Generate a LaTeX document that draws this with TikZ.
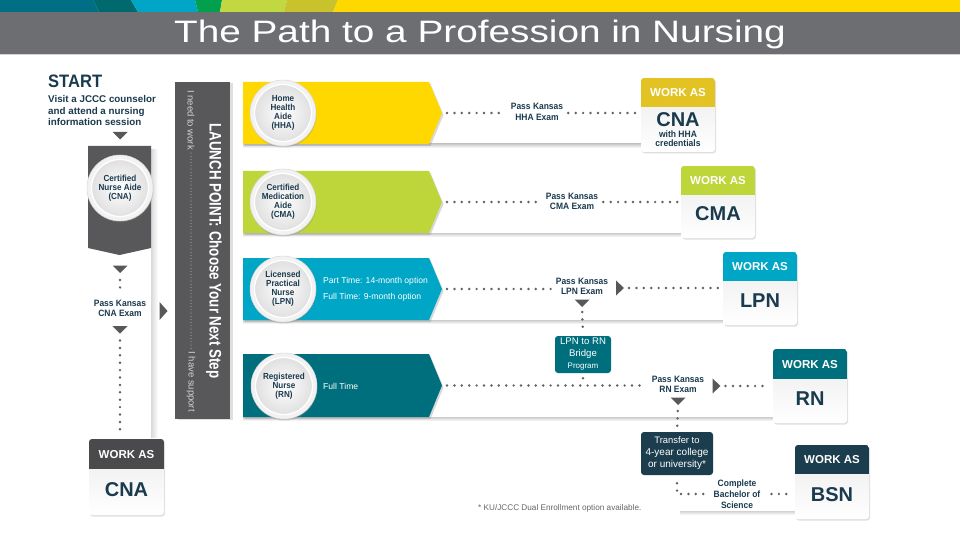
\documentclass[tikz,border=0pt]{standalone}
\usepackage{fontspec}
\setmainfont{Liberation Sans}
\newfontfamily\condfont{Liberation Sans}[FakeStretch=0.92]
\newfontfamily\narrowfont{Liberation Sans}[FakeStretch=0.8]
\usetikzlibrary{calc,shadows}

\definecolor{navy}{HTML}{1A3A4E}
\definecolor{dgray}{HTML}{58585A}
\definecolor{hdrgray}{HTML}{4A4A4C}
\definecolor{bannergray}{HTML}{6D6E71}
\definecolor{dotgray}{HTML}{5F6063}
\definecolor{cyellow}{HTML}{FFD800}
\definecolor{cgold}{HTML}{E3C324}
\definecolor{clime}{HTML}{BED63A}
\definecolor{ccyan}{HTML}{00A6C6}
\definecolor{cteal}{HTML}{006F7D}
\definecolor{cnavybox}{HTML}{1C3D4E}
\definecolor{band1}{HTML}{006F86}
\definecolor{band2}{HTML}{00696D}
\definecolor{band3}{HTML}{00A5C8}
\definecolor{band4}{HTML}{00A04E}
\definecolor{band5}{HTML}{C1D840}
\definecolor{band6}{HTML}{C8C22D}

\tikzset{
  dotline/.style={draw=dotgray, line width=2.7pt, line cap=round, dash pattern=on 0pt off 7.4pt},
  leader/.style={draw=gray!40, line width=1pt, line cap=round, dash pattern=on 0pt off 3.2pt},
  passlab/.style={align=center, font=\condfont\bfseries\fontsize{9.2}{10.5}\selectfont, text=navy, inner sep=1pt},
  circ/.style={circle, minimum size=66pt, inner sep=0, fill=gray!10, draw=gray!30, line width=0.5pt,
    drop shadow={opacity=0.3, shadow xshift=0.5pt, shadow yshift=-1.5pt},
    path picture={\shade[inner color=white, outer color=gray!28] (path picture bounding box.center) circle (28pt);
                  \draw[white, line width=1.2pt] (path picture bounding box.center) circle (28.5pt);},
    align=center, text=navy, font=\condfont\bfseries\fontsize{8.8}{9}\selectfont},
  workas/.style={text=white, font=\bfseries\fontsize{11.5}{12}\selectfont, inner sep=0},
  workbig/.style={text=navy, font=\bfseries\fontsize{20}{20}\selectfont, inner sep=0},
  wbody/.style={rounded corners=3pt, top color=gray!16, bottom color=white,
    drop shadow={opacity=0.25, shadow xshift=1pt, shadow yshift=-1.5pt}},
  stepbanner/.style={drop shadow={opacity=0.3, shadow xshift=1.5pt, shadow yshift=-2pt}},
  roundbox/.style={rounded corners=3pt, text=white, align=center, inner sep=0},
  rowtext/.style={text=white, anchor=west, inner sep=0, font=\fontsize{8.6}{9}\selectfont},
}

\newcommand\WorkBox[7]{%
  \path[wbody] (#2,#3) rectangle (#4,#5);
  \begin{scope}
    \clip[rounded corners=3pt] (#2,#3) rectangle (#4,#5);
    \fill[#7] (#2,#3) rectangle (#4,#6);
  \end{scope}
  \node[inner sep=0, minimum width={(#4-#2)*1pt}, minimum height={(#5-#3)*1pt}] (#1) at ({(#2+#4)/2},{(#3+#5)/2}) {};
  \node[workas] (#1h) at ({(#2+#4)/2},{(#3+#6)/2+0.5}) {WORK AS};
}
\newcommand\StepRow[5]{%
  \shade[top color=gray!40, bottom color=white] (243,#3) rectangle (#5,#3+4);
  \fill[#4, stepbanner] (243,#2) -- (429,#2) -- (442,{(#2+#3)/2}) -- (429,#3) -- (243,#3) -- cycle;
  \coordinate (#1) at (442,{(#2+#3)/2});
}
\newcommand\RTri[3]{\fill[dgray] (#2,#3-7.5) -- (#2+8,#3) -- (#2,#3+7.5) -- cycle; \coordinate (#1) at (#2+8,#3);}
\newcommand\DTri[3]{\fill[dgray] (#2-7.5,#3) -- (#2+7.5,#3) -- (#2,#3+7.5) -- cycle; \coordinate (#1) at (#2,#3+7.5);}

\begin{document}
\begin{tikzpicture}[x=1pt,y=-1pt]
\useasboundingbox (0,0) rectangle (960,540);
\fill[white] (0,0) rectangle (960,540);

% top colour band
\fill[band1] (0,0) -- (93,0) -- (99,12) -- (0,12) -- cycle;
\fill[band2] (93,0) -- (131,0) -- (138,12) -- (99,12) -- cycle;
\fill[band3] (131,0) -- (195,0) -- (198,12) -- (138,12) -- cycle;
\fill[band4] (195,0) -- (222,0) -- (220,12) -- (198,12) -- cycle;
\fill[band5] (222,0) -- (287,0) -- (284,12) -- (220,12) -- cycle;
\fill[band6] (287,0) -- (338,0) -- (333,12) -- (284,12) -- cycle;
\fill[cyellow] (338,0) -- (960,0) -- (960,12) -- (333,12) -- cycle;
\fill[bannergray] (0,12) rectangle (960,54);
\fill[gray!35] (0,54) rectangle (960,55.5);
\node[anchor=base, text=white, inner sep=0] (title) at (480,42.7)
  {\scalebox{1.25}[1]{\fontsize{31}{31}\selectfont The Path to a Profession in Nursing}};

% left column
\node[anchor=base west, inner sep=0, text=navy, font=\condfont\bfseries\fontsize{18}{18}\selectfont] (start) at (48,88) {START};
\node[anchor=north west, inner sep=0, align=left, text=navy, font=\bfseries\fontsize{9.8}{11.3}\selectfont] (visit) at (48,95.5)
  {Visit a JCCC counselor\\and attend a nursing\\information session};
\DTri{dt0}{120}{132}
\shade[left color=gray!30, right color=white] (151,150) rectangle (158,437);
\fill[dgray] (88,146) -- (151,146) -- (151,248) -- (119.5,255) -- (88,248) -- cycle;
\node[circ] (cCNA) at (120,188) {Certified\\Nurse Aide\\(CNA)};
\DTri{dt1}{120}{265.5}
\node[passlab] (pCNA) at (120,308.5) {Pass Kansas\\CNA Exam};
\draw[dotline, shorten <=7pt, shorten >=5pt] (dt1) -- (pCNA.north);
\fill[dgray] (159.5,302) -- (167.5,311) -- (159.5,320) -- cycle;
\DTri{dt2}{120}{326}
\WorkBox{wCNA}{89}{439}{164}{515}{469}{hdrgray}
\node[workbig] (tCNA0) at (126.5,490) {CNA};
\draw[dotline, shorten <=7pt, shorten >=4pt] (dt2) -- (dt2 |- wCNA.north);

% launch point bar
\node[fill=dgray, minimum width=55pt, minimum height=337pt, inner sep=0,
  drop shadow={opacity=0.25, shadow xshift=3pt, shadow yshift=-1pt}] (launch) at (202.5,250.5) {};
\node[rotate=-90, text=white, inner sep=0, font=\narrowfont\bfseries\fontsize{16.7}{16.7}\selectfont] (lp) at (214,251)
  {LAUNCH POINT: Choose Your Next Step};
\node[rotate=-90, anchor=west, text=gray!35, inner sep=0, font=\fontsize{9.5}{9.5}\selectfont] (need) at (191,90) {I need to work};
\node[rotate=-90, anchor=east, text=gray!35, inner sep=0, font=\fontsize{9.5}{9.5}\selectfont] (have) at (191,412) {I have support};
\draw[leader, shorten <=3pt, shorten >=3pt] (need.east) -- (have.west);

% rows
\StepRow{tHHA}{82}{144}{cyellow}{641}
\StepRow{tCMA}{171}{233}{clime}{681}
\StepRow{tLPN}{258}{320}{ccyan}{723}
\StepRow{tRN}{354}{417}{cteal}{773}
\shade[top color=gray!35, bottom color=white] (680,511) rectangle (800,515);

\node[circ] (cHHA) at (283,113) {Home\\Health\\Aide\\(HHA)};
\node[circ] (cCMA) at (283,202) {Certified\\Medication\\Aide\\(CMA)};
\node[circ] (cLPN) at (283,289) {Licensed\\Practical\\Nurse\\(LPN)};
\node[circ] (cRN) at (284,386) {Registered\\Nurse\\(RN)};

\node[rowtext] (pt) at (323,281) {Part Time: 14-month option};
\node[rowtext] (ft) at (323,297) {Full Time: 9-month option};
\node[rowtext] (ftrn) at (323,386) {Full Time};

% row 1
\node[passlab] (pHHA) at (537,112) {Pass Kansas\\HHA Exam};
\WorkBox{wHHA}{641}{78}{715}{152}{107}{cgold}
\node[workbig] (tCNA1) at (678,120) {CNA};
\node[text=navy, inner sep=0, align=center, font=\condfont\bfseries\fontsize{9.3}{9.2}\selectfont] (cred) at (678,139) {with HHA\\credentials};
\draw[dotline, shorten <=5pt, shorten >=4pt] (tHHA) -- (tHHA -| pHHA.west);
\draw[dotline, shorten <=4pt, shorten >=3pt] (tHHA -| pHHA.east) -- (tHHA -| wHHA.west);

% row 2
\node[passlab] (pCMA) at (572,201.5) {Pass Kansas\\CMA Exam};
\WorkBox{wCMA}{681}{166}{755}{238}{195}{clime}
\node[workbig] (tCMA2) at (718,214) {CMA};
\draw[dotline, shorten <=5pt, shorten >=4pt] (tCMA) -- (tCMA -| pCMA.west);
\draw[dotline, shorten <=4pt, shorten >=3pt] (tCMA -| pCMA.east) -- (tCMA -| wCMA.west);

% row 3
\node[passlab] (pLPN) at (582,286.5) {Pass Kansas\\LPN Exam};
\WorkBox{wLPN}{723}{252}{797}{325}{281}{ccyan}
\node[workbig] (tLPN2) at (760,300.5) {LPN};
\RTri{rtLPN}{616}{288}
\draw[dotline, shorten <=5pt, shorten >=4pt] (tLPN) -- (tLPN -| pLPN.west);
\draw[dotline, shorten <=5pt, shorten >=3pt] (rtLPN) -- (rtLPN -| wLPN.west);
\DTri{dtLPN}{582}{299.5}
\node[roundbox, fill=cteal, minimum width=56pt, minimum height=37pt] (bridge) at (583,354.5)
  {\fontsize{9.6}{10.5}\selectfont LPN to RN\\\fontsize{9.6}{10.5}\selectfont Bridge\\\fontsize{8}{8.5}\selectfont Program};
\draw[dotline, shorten <=5pt, shorten >=3pt] (dtLPN) -- (bridge.north);
\draw[dotline, shorten <=5pt, shorten >=4pt] (bridge.south) -- (bridge.south |- tRN);

% row 4
\node[passlab] (pRN) at (678,384.5) {Pass Kansas\\RN Exam};
\WorkBox{wRN}{773}{349}{847}{423}{379}{cteal}
\node[workbig] (tRN2) at (810,399) {RN};
\RTri{rtRN}{712.5}{386}
\draw[dotline, shorten <=5pt, shorten >=4pt] (tRN) -- (tRN -| pRN.west);
\draw[dotline, shorten <=5pt, shorten >=3pt] (rtRN) -- (rtRN -| wRN.west);
\DTri{dtRN}{678}{397.5}
\node[roundbox, fill=cnavybox, minimum width=72pt, minimum height=43pt] (transfer) at (677,453.5)
  {\fontsize{9.4}{10.2}\selectfont Transfer to\\4-year college\\or university*};
\draw[dotline, shorten <=6pt, shorten >=3pt] (dtRN) -- (transfer.north);

% BSN
\node[passlab, font=\condfont\bfseries\fontsize{9.2}{11}\selectfont] (cBSN) at (737,494) {Complete\\Bachelor of\\Science};
\WorkBox{wBSN}{795}{445}{869}{519}{474}{cnavybox}
\node[workbig] (tBSN2) at (832,494.5) {BSN};
\coordinate (corner) at (transfer.south |- cBSN.west);
\draw[dotline, shorten <=8pt, shorten >=5pt] (transfer.south) -- (corner) -- (cBSN.west);
\draw[dotline, shorten <=10pt, shorten >=3pt] (cBSN.east) -- (cBSN.east -| wBSN.west);

\node[anchor=west, inner sep=0, text=gray!80!black, font=\fontsize{8.2}{8.5}\selectfont] (note) at (478,508)
  {* KU/JCCC Dual Enrollment option available.};
\end{tikzpicture}
\end{document}
